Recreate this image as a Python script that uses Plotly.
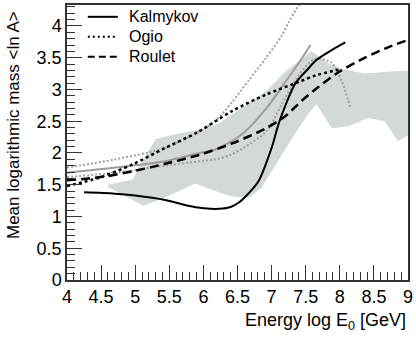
import plotly.graph_objects as go

# Kalmykov (black solid)
kal_x = [4.25, 4.7, 5.0, 5.44, 5.7, 5.92, 6.1, 6.23, 6.4, 6.52, 6.65, 6.81, 7.0, 7.1, 7.21, 7.35, 7.54, 7.64, 7.85, 8.08]
kal_y = [1.38, 1.36, 1.33, 1.26, 1.19, 1.14, 1.12, 1.12, 1.15, 1.22, 1.35, 1.56, 2.08, 2.45, 2.77, 3.10, 3.33, 3.45, 3.60, 3.74]

# Ogio (black dotted)
ogio_x = [4.0, 4.47, 4.96, 5.44, 5.92, 6.42, 6.92, 7.4, 7.64, 7.98]
ogio_y = [1.48, 1.61, 1.82, 2.08, 2.33, 2.66, 2.92, 3.12, 3.22, 3.31]

# Roulet (black dashed)
rou_x = [4.0, 4.5, 5.0, 5.44, 5.94, 6.42, 6.92, 7.2, 7.44, 7.64, 7.98, 8.37, 8.7, 9.0]
rou_y = [1.57, 1.62, 1.72, 1.83, 1.97, 2.15, 2.39, 2.58, 2.82, 3.0, 3.27, 3.5, 3.66, 3.78]

# grey curves (no legend)
gs_x = [4.0, 4.71, 5.44, 5.94, 6.17, 6.57, 6.92, 7.21, 7.40, 7.57]
gs_y = [1.69, 1.77, 1.87, 2.0, 2.05, 2.30, 2.70, 3.13, 3.42, 3.70]

gdu_x = [4.0, 4.71, 5.44, 5.92, 6.17, 6.42, 6.67, 6.92, 7.15, 7.25, 7.44]
gdu_y = [1.77, 1.9, 2.08, 2.33, 2.5, 2.8, 3.15, 3.5, 3.85, 4.06, 4.4]

gdl_x = [4.0, 4.71, 5.44, 5.94, 6.17, 6.42, 6.92, 7.15, 7.40, 7.64, 7.88, 8.03, 8.15]
gdl_y = [1.62, 1.69, 1.80, 1.87, 1.9, 1.98, 2.34, 2.77, 3.23, 3.48, 3.42, 3.13, 2.73]

# grey band
band_up_x = [4.60, 4.96, 5.10, 5.30, 5.60, 5.92, 6.20, 6.55, 6.92, 7.20, 7.40, 7.58, 7.70, 7.85, 8.05, 8.37, 8.70, 9.0]
band_up_y = [1.50, 1.58, 1.85, 2.22, 2.30, 2.36, 2.45, 2.70, 2.97, 3.28, 3.45, 3.60, 3.52, 3.40, 3.32, 3.25, 3.28, 3.30]
band_lo_x = [4.60, 4.80, 5.12, 5.44, 5.88, 6.17, 6.40, 6.67, 6.85, 7.05, 7.30, 7.54, 7.66, 7.88, 8.12, 8.42, 8.66, 8.85, 9.0]
band_lo_y = [1.47, 1.35, 1.17, 1.30, 1.52, 1.40, 1.32, 1.30, 1.45, 1.80, 2.23, 2.62, 2.77, 2.39, 2.42, 2.55, 2.50, 2.19, 2.27]

legend_names = ['Kalmykov', 'Ogio', 'Roulet']

font = 'Liberation Sans, Arial, sans-serif'

fig = go.Figure()

fig.add_trace(go.Scatter(x=band_up_x + band_lo_x[::-1], y=band_up_y + band_lo_y[::-1],
                         fill='toself', fillcolor='#d3d8d8', line=dict(width=0),
                         mode='lines', showlegend=False, hoverinfo='skip'))

fig.add_trace(go.Scatter(x=gs_x, y=gs_y, mode='lines', showlegend=False,
                         line=dict(color='#9c9c9c', width=2, shape='spline', smoothing=0.8)))
fig.add_trace(go.Scatter(x=gdu_x, y=gdu_y, mode='lines', showlegend=False,
                         line=dict(color='#a0a0a0', width=2, dash='2px,2px', shape='spline', smoothing=0.8)))
fig.add_trace(go.Scatter(x=gdl_x, y=gdl_y, mode='lines', showlegend=False,
                         line=dict(color='#a0a0a0', width=2, dash='2px,2px', shape='spline', smoothing=0.8)))

main_styles = [dict(color='black', width=2),
               dict(color='black', width=2.5, dash='3px,3px'),
               dict(color='black', width=2.5, dash='9px,5px')]
for name, xs, ys, st in zip(legend_names, [kal_x, ogio_x, rou_x], [kal_y, ogio_y, rou_y], main_styles):
    fig.add_trace(go.Scatter(x=xs, y=ys, mode='lines', name=name, showlegend=False,
                             line=dict(shape='spline', smoothing=0.8, **st)))

axis_common = dict(showline=True, mirror=True, linecolor='#333', linewidth=1.5,
                   ticks='inside', ticklen=15, tickcolor='#333', tickwidth=1,
                   dtick=0.5, showgrid=False, zeroline=False,
                   tickfont=dict(size=18, color='black', family=font),
                   minor=dict(ticks='inside', ticklen=8, dtick=0.1, tickcolor='#333', tickwidth=1, showgrid=False))

fig.update_xaxes(range=[4, 9], tick0=4, **axis_common)
fig.update_yaxes(range=[0, 4.33], tick0=0, **axis_common)

# hand-placed legend (ROOT style: tight rows in the top-left corner)
key_styles = [dict(color='black', width=2),
              dict(color='black', width=2, dash='2px,3px'),
              dict(color='black', width=2, dash='7px,4px')]
row_y = [0.957, 0.885, 0.812]
for name, st, ry in zip(legend_names, key_styles, row_y):
    fig.add_shape(type='line', xref='paper', yref='paper', x0=0.061, x1=0.149, y0=ry, y1=ry, line=st)
    fig.add_annotation(text=name, xref='paper', yref='paper', x=0.176, y=ry,
                       xanchor='left', yanchor='middle', showarrow=False,
                       font=dict(size=16, family=font))

fig.add_annotation(text='Mean logarithmic mass &lt;ln A&gt;', textangle=-90, xref='paper', yref='paper',
                   x=-0.155, y=0.986, xanchor='center', yanchor='top', showarrow=False,
                   font=dict(size=17, family=font))
fig.add_annotation(text='Energy log E<sub>0</sub> [GeV]', xref='paper', yref='paper',
                   x=1.0, y=-0.152, xanchor='right', yanchor='middle', showarrow=False,
                   font=dict(size=18, family=font))

fig.update_layout(
    width=416, height=342,
    margin=dict(l=67, r=6, t=3, b=62),
    plot_bgcolor='white', paper_bgcolor='white',
    font=dict(family=font, color='black'),
    showlegend=False,
)

# drop the default body margin so the figure sits at the window's top-left corner
fig.write_html("out.html", config={'displayModeBar': False},
               post_script="document.body.style.margin='0';")
